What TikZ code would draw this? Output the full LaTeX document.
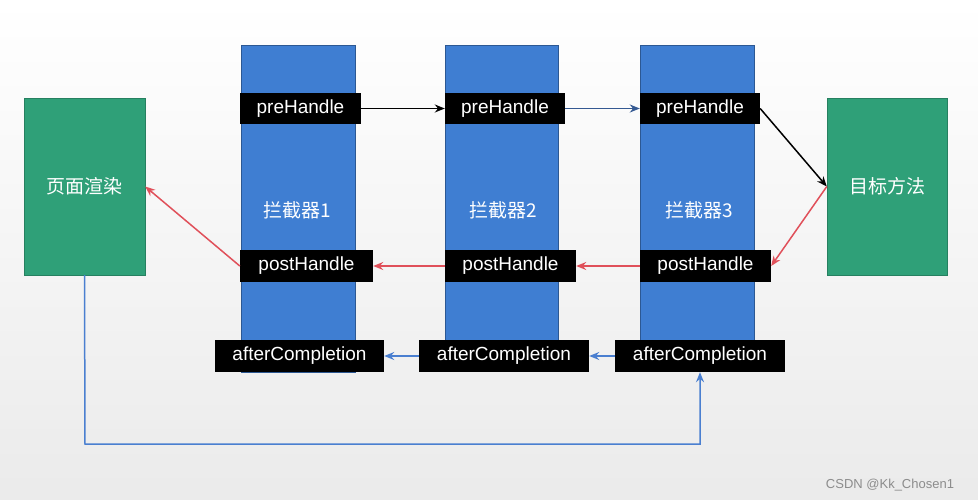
\documentclass[tikz,border=0pt]{standalone}
\usepackage{fontspec}
\setmainfont{Liberation Sans}
\newfontfamily\cjk{Noto Sans CJK SC}
\usetikzlibrary{arrows.meta}
\definecolor{colblue}{HTML}{3F7ED2}
\definecolor{grn}{HTML}{2FA078}
\definecolor{redl}{HTML}{E0505A}
\definecolor{bluel}{HTML}{4A7FD0}
\begin{document}
\begin{tikzpicture}[x=1pt,y=-1pt,
  col/.style={fill=colblue,draw=colblue!70!black,line width=0.4pt},
  gbox/.style={fill=grn,draw=grn!80!black,text=white,font=\cjk\fontsize{19}{19}\selectfont},
  lab/.style={fill=black,text=white,inner sep=0pt,font=\fontsize{19}{19}\selectfont},
  ctext/.style={text=white,font=\cjk\fontsize{19}{19}\selectfont},
  arr/.style={-{Stealth[length=10pt,width=8pt]},line width=1.5pt}]
\fill[top color=white,bottom color=black!8] (0,0) rectangle (978,500);
\useasboundingbox (0,0) rectangle (978,500);
\fill[col] (241,45) rectangle (355,372);
\fill[col] (445,45) rectangle (558,370);
\fill[col] (640,45) rectangle (754,368);
\node[ctext] (c1) at (297,210) {拦截器1};
\node[ctext] (c2) at (503,210) {拦截器2};
\node[ctext] (c3) at (699,210) {拦截器3};
\node[gbox,minimum width=121pt,minimum height=177pt] (L) at (84.5,186.5) {页面渲染};
\node[gbox,minimum width=120pt,minimum height=177pt] (R) at (887,186.5) {目标方法};
\node[lab,minimum width=121pt,minimum height=31pt] (p1) at (300.5,108.5) {preHandle};
\node[lab,minimum width=120pt,minimum height=31pt] (p2) at (505,108.5) {preHandle};
\node[lab,minimum width=120pt,minimum height=31pt] (p3) at (700,108.5) {preHandle};
\node[lab,minimum width=133pt,minimum height=32pt] (q1) at (306.5,266) {postHandle};
\node[lab,minimum width=131pt,minimum height=32pt] (q2) at (510.5,266) {postHandle};
\node[lab,minimum width=131pt,minimum height=32pt] (q3) at (705.5,266) {postHandle};
\node[lab,minimum width=169pt,minimum height=32pt] (a1) at (299.5,356) {afterCompletion};
\node[lab,minimum width=170pt,minimum height=32pt] (a2) at (504,356) {afterCompletion};
\node[lab,minimum width=170pt,minimum height=32pt] (a3) at (700,356) {afterCompletion};
\draw[arr,black] (p1) -- (p2);
\draw[arr,bluel!70!black] (p2) -- (p3);
\draw[arr,black] (p3.east) -- (R.west);
\draw[arr,redl] (R.west) -- (q3.east);
\draw[arr,redl] (q3) -- (q2);
\draw[arr,redl] (q2) -- (q1);
\draw[arr,redl] (q1.west) -- (L.east);
\draw[arr,bluel] (a3) -- (a2);
\draw[arr,bluel] (a2) -- (a1);
\coordinate (b1) at (85,444);
\coordinate (b2) at (700,444);
\draw[arr,bluel] (L.south) -- (b1) -- (b2) -- (a3.south);
\node[text=black!45,font=\fontsize{13}{13}\selectfont] (wm) at (890,485) {CSDN @Kk\_Chosen1};
\end{tikzpicture}
\end{document}
